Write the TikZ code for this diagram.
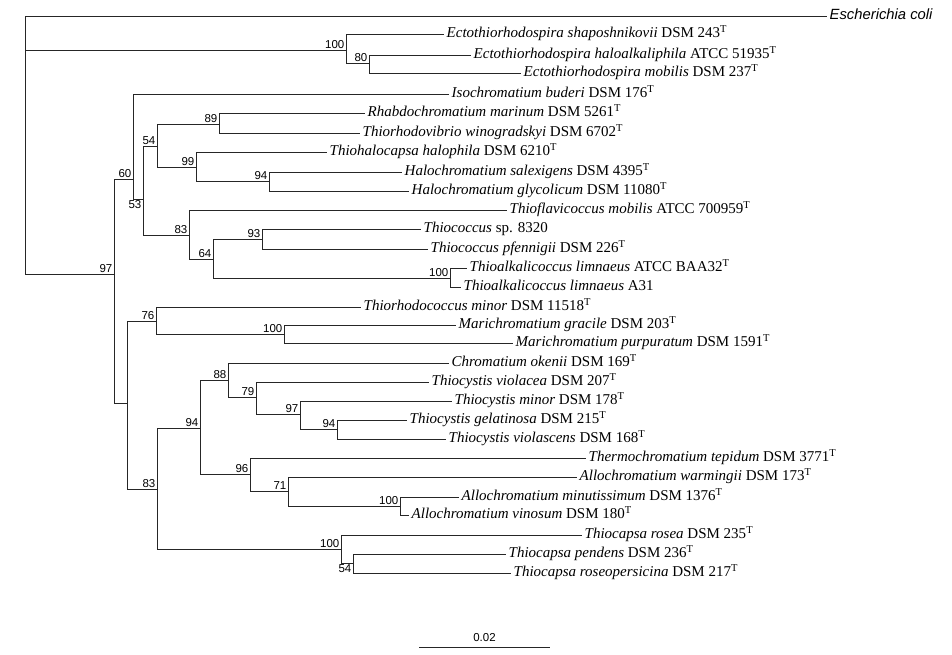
\documentclass[tikz,border=0pt]{standalone}
\usepackage{fontspec}
\setmainfont{Liberation Serif}
\setsansfont{Liberation Sans}
\usetikzlibrary{calc}
\newcommand{\typeT}{\textsuperscript{T}}
\tikzset{
  branch/.style={line width=0.9pt, black!85},
  leaf/.style={anchor=west, inner sep=2.5pt, text height=10.5pt, text depth=3.3pt,
    font=\fontsize{15}{16}\selectfont},
  boot/.style={anchor=south east, inner sep=1.5pt, font=\sffamily\fontsize{11.5}{12}\selectfont},
  bootbelow/.style={boot, anchor=north east}
}
\begin{document}
\begin{tikzpicture}[x=1pt,y=-1pt]

    % Fix the page to the size of the reference
    \useasboundingbox (0,0) rectangle (952,655);

    % Internal nodes: x of the vertical line, y of the incoming branch
    \coordinate (root) at (25,50);
    \coordinate (ecto) at (346,50);
    \coordinate (ectoB) at (369,63);
    \coordinate (chrom) at (114,274);
    \coordinate (upper) at (133,179);
    \coordinate (upperB) at (143,199);
    \coordinate (halo) at (157,146);
    \coordinate (rhab) at (219,124);
    \coordinate (thiohal) at (196,167);
    \coordinate (halochr) at (269,181);
    \coordinate (coccus) at (189,235);
    \coordinate (coccusB) at (213,259);
    \coordinate (thiococ) at (262,239);
    \coordinate (alkali) at (450,278);
    \coordinate (lower) at (127,403);
    \coordinate (mari) at (156,321);
    \coordinate (mariB) at (284,334);
    \coordinate (lowerB) at (157,489);
    \coordinate (cystis) at (200,428);
    \coordinate (okenii) at (228,380);
    \coordinate (cystisB) at (256,397);
    \coordinate (cystisC) at (300,414);
    \coordinate (cystisD) at (337,429);
    \coordinate (allo) at (250,474);
    \coordinate (alloB) at (288,491);
    \coordinate (alloC) at (400,506);
    \coordinate (capsa) at (341,549);
    \coordinate (capsaB) at (353,563);

    % Outgroup and Ectothiorhodospira
    \node[leaf, font=\sffamily\itshape\fontsize{14.8}{16}\selectfont] (ecoli) at (827,16) {Escherichia coli};
    \node[leaf] (eshap) at (444,34) {\textit{Ectothiorhodospira shaposhnikovii} DSM 243\typeT};
    \node[leaf] (ehalo) at (471,55) {\textit{Ectothiorhodospira haloalkaliphila} ATCC 51935\typeT};
    \node[leaf] (emob) at (521,73) {\textit{Ectothiorhodospira mobilis} DSM 237\typeT};

    % Upper Chromatiaceae clade
    \node[leaf] (iso) at (449,94) {\textit{Isochromatium buderi} DSM 176\typeT};
    \node[leaf] (rmar) at (365,113) {\textit{Rhabdochromatium marinum} DSM 5261\typeT};
    \node[leaf] (twin) at (360,133) {\textit{Thiorhodovibrio winogradskyi} DSM 6702\typeT};
    \node[leaf] (thal) at (327,152) {\textit{Thiohalocapsa halophila} DSM 6210\typeT};
    \node[leaf] (hsal) at (402,172) {\textit{Halochromatium salexigens} DSM 4395\typeT};
    \node[leaf] (hgly) at (409,191) {\textit{Halochromatium glycolicum} DSM 11080\typeT};
    \node[leaf] (tflav) at (507,210) {\textit{Thioflavicoccus mobilis} ATCC 700959\typeT};
    \node[leaf] (tcsp) at (421,229) {\textit{Thiococcus} sp. 8320};
    \node[leaf] (tpfe) at (428,249) {\textit{Thiococcus pfennigii} DSM 226\typeT};
    \node[leaf] (tlimA) at (467,268) {\textit{Thioalkalicoccus limnaeus} ATCC BAA32\typeT};
    \node[leaf] (tlimB) at (461,287) {\textit{Thioalkalicoccus limnaeus} A31};

    % Lower Chromatiaceae clade
    \node[leaf] (trmin) at (361,307) {\textit{Thiorhodococcus minor} DSM 11518\typeT};
    \node[leaf] (mgra) at (456,325) {\textit{Marichromatium gracile} DSM 203\typeT};
    \node[leaf] (mpur) at (513,343) {\textit{Marichromatium purpuratum} DSM 1591\typeT};
    \node[leaf] (coke) at (449,363) {\textit{Chromatium okenii} DSM 169\typeT};
    \node[leaf] (tvio) at (429,382) {\textit{Thiocystis violacea} DSM 207\typeT};
    \node[leaf] (tmin) at (452,401) {\textit{Thiocystis minor} DSM 178\typeT};
    \node[leaf] (tgel) at (407,420) {\textit{Thiocystis gelatinosa} DSM 215\typeT};
    \node[leaf] (tvls) at (446,439) {\textit{Thiocystis violascens} DSM 168\typeT};
    \node[leaf] (ttep) at (586,458) {\textit{Thermochromatium tepidum} DSM 3771\typeT};
    \node[leaf] (awar) at (577,477) {\textit{Allochromatium warmingii} DSM 173\typeT};
    \node[leaf] (amin) at (459,497) {\textit{Allochromatium minutissimum} DSM 1376\typeT};
    \node[leaf] (avin) at (409,515) {\textit{Allochromatium vinosum} DSM 180\typeT};
    \node[leaf] (tros) at (582,535) {\textit{Thiocapsa rosea} DSM 235\typeT};
    \node[leaf] (tpen) at (506,554) {\textit{Thiocapsa pendens} DSM 236\typeT};
    \node[leaf] (trop) at (511,573) {\textit{Thiocapsa roseopersicina} DSM 217\typeT};

    % Draw the branches, parent to child
    \draw[branch] (root) |- (ecoli.west);
    \draw[branch] (root) -- (ecto);
    \draw[branch] (root) |- (chrom);
    \draw[branch] (ecto) |- (eshap.west);
    \draw[branch] (ecto) |- (ectoB);
    \draw[branch] (ectoB) |- (ehalo.west);
    \draw[branch] (ectoB) |- (emob.west);

    \draw[branch] (chrom) |- (upper);
    \draw[branch] (chrom) |- (lower);
    \draw[branch] (upper) |- (iso.west);
    \draw[branch] (upper) |- (upperB);
    \draw[branch] (upperB) |- (halo);
    \draw[branch] (upperB) |- (coccus);
    \draw[branch] (halo) |- (rhab);
    \draw[branch] (halo) |- (thiohal);
    \draw[branch] (rhab) |- (rmar.west);
    \draw[branch] (rhab) |- (twin.west);
    \draw[branch] (thiohal) |- (thal.west);
    \draw[branch] (thiohal) |- (halochr);
    \draw[branch] (halochr) |- (hsal.west);
    \draw[branch] (halochr) |- (hgly.west);
    \draw[branch] (coccus) |- (tflav.west);
    \draw[branch] (coccus) |- (coccusB);
    \draw[branch] (coccusB) |- (thiococ);
    \draw[branch] (coccusB) |- (alkali);
    \draw[branch] (thiococ) |- (tcsp.west);
    \draw[branch] (thiococ) |- (tpfe.west);
    \draw[branch] (alkali) |- (tlimA.west);
    \draw[branch] (alkali) |- (tlimB.west);

    \draw[branch] (lower) |- (mari);
    \draw[branch] (lower) |- (lowerB);
    \draw[branch] (mari) |- (trmin.west);
    \draw[branch] (mari) |- (mariB);
    \draw[branch] (mariB) |- (mgra.west);
    \draw[branch] (mariB) |- (mpur.west);
    \draw[branch] (lowerB) |- (cystis);
    \draw[branch] (lowerB) |- (capsa);
    \draw[branch] (cystis) |- (okenii);
    \draw[branch] (cystis) |- (allo);
    \draw[branch] (okenii) |- (coke.west);
    \draw[branch] (okenii) |- (cystisB);
    \draw[branch] (cystisB) |- (tvio.west);
    \draw[branch] (cystisB) |- (cystisC);
    \draw[branch] (cystisC) |- (tmin.west);
    \draw[branch] (cystisC) |- (cystisD);
    \draw[branch] (cystisD) |- (tgel.west);
    \draw[branch] (cystisD) |- (tvls.west);
    \draw[branch] (allo) |- (ttep.west);
    \draw[branch] (allo) |- (alloB);
    \draw[branch] (alloB) |- (awar.west);
    \draw[branch] (alloB) |- (alloC);
    \draw[branch] (alloC) |- (amin.west);
    \draw[branch] (alloC) |- (avin.west);
    \draw[branch] (capsa) |- (tros.west);
    \draw[branch] (capsa) |- (capsaB);
    \draw[branch] (capsaB) |- (tpen.west);
    \draw[branch] (capsaB) |- (trop.west);

    % Bootstrap values at the nodes
    \node[boot] (bEcto) at (ecto) {100};
    \node[boot] (bEctoB) at (ectoB) {80};
    \node[boot] (bChrom) at (chrom) {97};
    \node[boot] (bUpper) at (upper) {60};
    \node[bootbelow] (bUpperB) at (upperB) {53};
    \node[boot] (bHalo) at (halo) {54};
    \node[boot] (bRhab) at (rhab) {89};
    \node[boot] (bThiohal) at (thiohal) {99};
    \node[boot] (bHalochr) at (halochr) {94};
    \node[boot] (bCoccus) at (coccus) {83};
    \node[boot] (bCoccusB) at (coccusB) {64};
    \node[boot] (bThiococ) at (thiococ) {93};
    \node[boot] (bAlkali) at (alkali) {100};
    \node[boot] (bMari) at (mari) {76};
    \node[boot] (bMariB) at (mariB) {100};
    \node[boot] (bLowerB) at (lowerB) {83};
    \node[boot] (bCystis) at (cystis) {94};
    \node[boot] (bOkenii) at (okenii) {88};
    \node[boot] (bCystisB) at (cystisB) {79};
    \node[boot] (bCystisC) at (cystisC) {97};
    \node[boot] (bCystisD) at (cystisD) {94};
    \node[boot] (bAllo) at (allo) {96};
    \node[boot] (bAlloB) at (alloB) {71};
    \node[boot] (bAlloC) at (alloC) {100};
    \node[boot] (bCapsa) at (capsa) {100};
    \node[bootbelow] (bCapsaB) at (capsaB) {54};

    % Scale bar
    \coordinate (barL) at (419,647);
    \coordinate (barR) at (550,647);
    \draw[branch] (barL) -- (barR);
    \node[boot, anchor=south] (barLabel) at ($(barL)!0.5!(barR)+(0,-4)$) {0.02};

\end{tikzpicture}
\end{document}
